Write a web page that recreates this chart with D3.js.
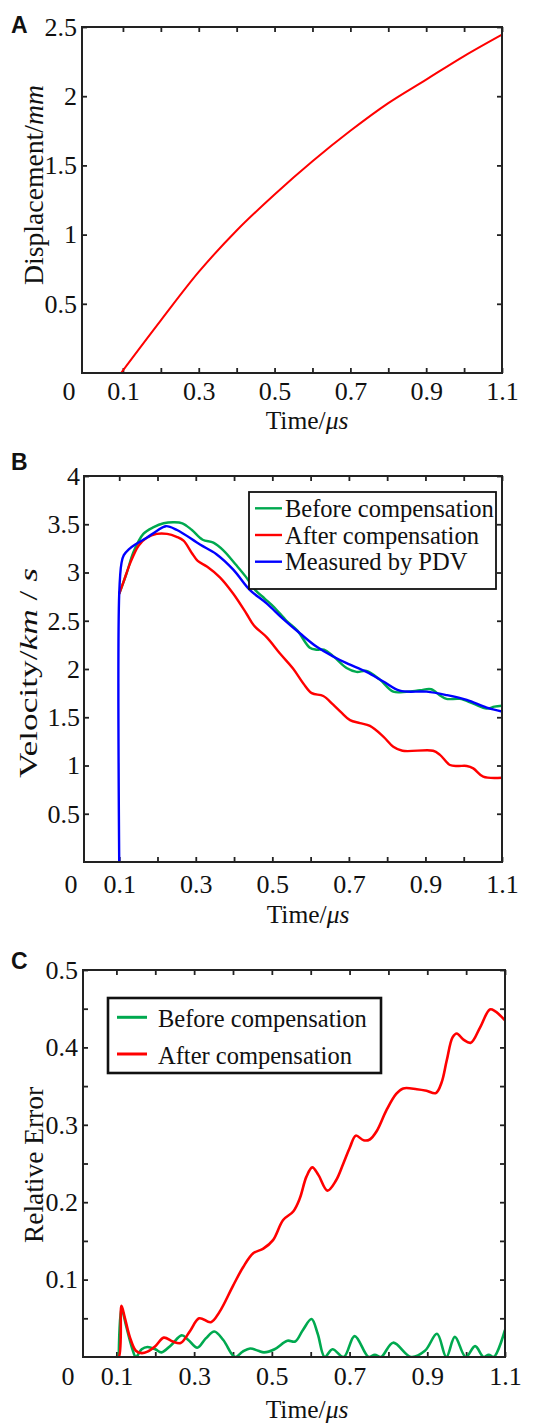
<!DOCTYPE html>
<html>
<head>
<meta charset="utf-8">
<script src="https://cdnjs.cloudflare.com/ajax/libs/d3/7.8.5/d3.min.js"></script>
<style>
body { margin: 0; background: #fff; }
svg text { font-family: "Liberation Serif", "Times New Roman", serif; fill: #111; }
</style>
</head>
<body>
<svg id="fig" width="553" height="1423"></svg>
<script>
// ---- data ----
var timeTicks = [0.1, 0.2, 0.3, 0.4, 0.5, 0.6, 0.7, 0.8, 0.9, 1.0, 1.1];
var timeLabels = [0.1, 0.3, 0.5, 0.7, 0.9, 1.1];

var dispTicks = [0.5, 1, 1.5, 2, 2.5];
var dispLabels = [0.5, 1, 1.5, 2, 2.5];
var velTicks = [0.5, 1, 1.5, 2, 2.5, 3, 3.5, 4];
var velLabels = [0.5, 1, 1.5, 2, 2.5, 3, 3.5, 4];
var errTicks = [0.05, 0.1, 0.15, 0.2, 0.25, 0.3, 0.35, 0.4, 0.45, 0.5];
var errLabels = [0.1, 0.2, 0.3, 0.4, 0.5];

var seriesNames = ['Before compensation', 'After compensation', 'Measured by PDV'];

// A: displacement (mm) vs time (us)
var displacement = [[0.095, 0], [0.2, 0.38], [0.3, 0.73], [0.4, 1.03], [0.5, 1.29], [0.6, 1.53],
    [0.7, 1.75], [0.8, 1.95], [0.9, 2.12], [1.0, 2.29], [1.1, 2.445]];

// B: velocity (km/s)
var velBefore = [[0.1, 2.78], [0.12, 3.0], [0.137, 3.21], [0.163, 3.4], [0.19, 3.47], [0.216, 3.51], [0.242, 3.52],
    [0.265, 3.51], [0.29, 3.44], [0.318, 3.34], [0.346, 3.31], [0.372, 3.23], [0.405, 3.08], [0.43, 2.96],
    [0.455, 2.82], [0.48, 2.73], [0.505, 2.64], [0.537, 2.5], [0.565, 2.4], [0.598, 2.22], [0.615, 2.2],
    [0.635, 2.2], [0.66, 2.13], [0.694, 2.01], [0.72, 1.97], [0.746, 1.98], [0.781, 1.89], [0.816, 1.765],
    [0.851, 1.765], [0.886, 1.78], [0.915, 1.79], [0.94, 1.72], [0.955, 1.69], [0.99, 1.69], [1.025, 1.64],
    [1.06, 1.59], [1.08, 1.61], [1.1, 1.62]];
var velAfter = [[0.1, 2.78], [0.111, 2.9], [0.129, 3.1], [0.151, 3.28], [0.172, 3.36], [0.198, 3.4], [0.225, 3.4],
    [0.25, 3.37], [0.268, 3.33], [0.29, 3.2], [0.305, 3.12], [0.33, 3.06], [0.363, 2.95], [0.398, 2.78],
    [0.433, 2.57], [0.452, 2.45], [0.485, 2.33], [0.52, 2.16], [0.555, 2.0], [0.581, 1.85], [0.603, 1.75],
    [0.633, 1.72], [0.659, 1.63], [0.68, 1.55], [0.703, 1.47], [0.729, 1.44], [0.755, 1.41], [0.79, 1.3],
    [0.816, 1.195], [0.84, 1.153], [0.92, 1.153], [0.938, 1.11], [0.964, 1.005], [0.985, 0.995], [1.008, 0.995],
    [1.025, 0.97], [1.051, 0.884], [1.1, 0.873]];
var velPDV = [[0.1, 0], [0.1, 2.78], [0.106, 3.1], [0.112, 3.18], [0.125, 3.24], [0.142, 3.29], [0.172, 3.36],
    [0.198, 3.43], [0.222, 3.48], [0.251, 3.44], [0.311, 3.29], [0.354, 3.19], [0.398, 3.03], [0.441, 2.82],
    [0.485, 2.68], [0.528, 2.52], [0.572, 2.37], [0.616, 2.23], [0.659, 2.13], [0.694, 2.06], [0.746, 1.97],
    [0.79, 1.87], [0.833, 1.775], [0.903, 1.765], [0.955, 1.73], [1.008, 1.68], [1.06, 1.6], [1.1, 1.56]];

// C: relative error
var errBefore = [[0.106, 0], [0.113, 0.063], [0.125, 0.04], [0.14, 0.012], [0.15, 0], [0.165, 0.01], [0.18, 0.013],
    [0.2, 0.01], [0.216, 0.006], [0.24, 0.015], [0.268, 0.028], [0.285, 0.022], [0.308, 0.012], [0.33, 0.024],
    [0.352, 0.033], [0.375, 0.022], [0.405, 0], [0.425, 0.007], [0.444, 0.011], [0.465, 0.008], [0.48, 0.006],
    [0.507, 0.01], [0.54, 0.021], [0.56, 0.02], [0.58, 0.035], [0.602, 0.049], [0.618, 0.03], [0.636, 0],
    [0.656, 0.01], [0.685, 0], [0.713, 0.027], [0.749, 0], [0.765, 0.003], [0.781, 0], [0.812, 0.0185],
    [0.858, 0], [0.894, 0.008], [0.925, 0.03], [0.949, 0], [0.971, 0.026], [0.999, 0], [1.023, 0.014],
    [1.045, 0], [1.058, 0.003], [1.071, 0], [1.1, 0.035]];
var errAfter = [[0.097, 0], [0.106, 0], [0.113, 0.066], [0.122, 0.05], [0.135, 0.025], [0.15, 0.008], [0.165, 0.005],
    [0.18, 0.007], [0.2, 0.014], [0.222, 0.025], [0.245, 0.02], [0.265, 0.018], [0.29, 0.034], [0.313, 0.05],
    [0.343, 0.045], [0.365, 0.058], [0.4, 0.092], [0.426, 0.116], [0.452, 0.134], [0.478, 0.14], [0.503, 0.151],
    [0.529, 0.177], [0.555, 0.188], [0.572, 0.205], [0.589, 0.233], [0.604, 0.245], [0.62, 0.235], [0.643, 0.215],
    [0.665, 0.228], [0.684, 0.25], [0.701, 0.271], [0.716, 0.286], [0.736, 0.28], [0.752, 0.281], [0.77, 0.292],
    [0.795, 0.319], [0.82, 0.34], [0.838, 0.347], [0.873, 0.346], [0.898, 0.344], [0.922, 0.341], [0.937, 0.355],
    [0.95, 0.383], [0.965, 0.413], [0.976, 0.418], [0.993, 0.41], [1.012, 0.406], [1.036, 0.426], [1.061, 0.449],
    [1.074, 0.447], [1.1, 0.435]];

var GREEN = '#00a94f', RED = '#ff0000', BLUE = '#0000ff';
var SERIF = '"Liberation Serif", "Times New Roman", serif';

var svg = d3.select('#fig');
var clipCount = 0;

function drawPanel(cfg) {
    var x = d3.scaleLinear().domain(cfg.xDomain).range([cfg.left, cfg.right]);
    var y = d3.scaleLinear().domain(cfg.yDomain).range([cfg.bottom, cfg.top]);
    var g = svg.append('g');
    var tickLen = 5;

    function fmt(labels) {
        return function (d) { return labels.indexOf(d) >= 0 ? String(d) : ''; };
    }
    var axes = [
        { a: d3.axisBottom(x).tickValues(timeTicks).tickFormat(fmt(timeLabels)).tickPadding(cfg.xPad), t: 'translate(0,' + cfg.bottom + ')' },
        { a: d3.axisTop(x).tickValues(timeTicks).tickFormat(''), t: 'translate(0,' + cfg.top + ')' },
        { a: d3.axisLeft(y).tickValues(cfg.yTicks).tickFormat(fmt(cfg.yLabels)).tickPadding(cfg.yPad), t: 'translate(' + cfg.left + ',0)' },
        { a: d3.axisRight(y).tickValues(cfg.yTicks).tickFormat(''), t: 'translate(' + cfg.right + ',0)' }
    ];
    axes.forEach(function (ax) {
        var sel = g.append('g').attr('transform', ax.t)
            .call(ax.a.tickSizeInner(-tickLen).tickSizeOuter(0))
            .attr('font-family', SERIF).attr('font-size', 26);
        sel.select('.domain').remove();
        sel.selectAll('line').attr('stroke', '#222').attr('stroke-width', 1.8);
        sel.selectAll('text').attr('fill', '#111');
    });

    // clip + series
    var clipId = 'clip' + (clipCount++);
    g.append('clipPath').attr('id', clipId).append('rect')
        .attr('x', cfg.left).attr('y', cfg.top - 1)
        .attr('width', cfg.right - cfg.left).attr('height', cfg.bottom - cfg.top + 1);
    var line = d3.line()
        .x(function (d) { return x(d[0]); })
        .y(function (d) { return y(d[1]); })
        .curve(d3.curveCatmullRom.alpha(0.5));
    var lines = g.append('g').attr('clip-path', 'url(#' + clipId + ')');
    cfg.series.forEach(function (s) {
        lines.append('path')
            .datum(s.data)
            .attr('d', line)
            .attr('fill', 'none')
            .attr('stroke', s.color)
            .attr('stroke-width', cfg.lineWidth)
            .attr('stroke-linejoin', 'round');
    });

    // box
    g.append('rect')
        .attr('x', cfg.left).attr('y', cfg.top)
        .attr('width', cfg.right - cfg.left).attr('height', cfg.bottom - cfg.top)
        .attr('fill', 'none').attr('stroke', '#222').attr('stroke-width', 2);

    // corner "0"
    g.append('text')
        .attr('x', cfg.zeroX).attr('y', cfg.labelBase)
        .attr('text-anchor', 'middle').attr('font-size', 26)
        .text('0');

    // x title
    var xt = g.append('text')
        .attr('x', cfg.xTitleX).attr('y', cfg.xTitleY)
        .attr('text-anchor', 'middle').attr('font-size', 25.5);
    xt.append('tspan').text('Time/');
    xt.append('tspan').attr('font-style', 'italic').text('\u03bcs');

    // y title
    var yt = g.append('text')
        .attr('transform', 'translate(' + cfg.yTitleX + ',' + cfg.yTitleY + ') rotate(-90)')
        .attr('text-anchor', 'middle').attr('font-size', cfg.yTitleSize)
        .attr('textLength', cfg.yTitleLen).attr('lengthAdjust', 'spacingAndGlyphs');
    cfg.yTitle.forEach(function (p) {
        yt.append('tspan').attr('font-style', p[1] ? 'italic' : 'normal').text(p[0]);
    });

    // panel letter
    svg.append('text')
        .attr('x', 11).attr('y', cfg.letterY)
        .attr('font-size', 23).attr('font-weight', 'bold')
        .style('font-family', '"Liberation Sans", Arial, sans-serif')
        .text(cfg.letter);

    if (cfg.legend) {
        var L = cfg.legend;
        g.append('rect')
            .attr('x', L.x).attr('y', L.y).attr('width', L.w).attr('height', L.h)
            .attr('fill', '#fff').attr('stroke', '#111').attr('stroke-width', L.stroke);
        L.items.forEach(function (it, i) {
            var ly = L.rows[i];
            g.append('line')
                .attr('x1', L.lineX1).attr('x2', L.lineX2).attr('y1', ly).attr('y2', ly)
                .attr('stroke', it.color).attr('stroke-width', L.lineWidth);
            g.append('text')
                .attr('x', L.textX).attr('y', ly + L.baseOff)
                .attr('font-size', 24.5)
                .text(it.name);
        });
    }
}

drawPanel({
    letter: 'A', letterY: 33,
    left: 82, right: 502, top: 27, bottom: 373,
    xDomain: [-0.008, 1.1], yDomain: [0, 2.5],
    yTicks: dispTicks, yLabels: dispLabels,
    xPad: 9, yPad: 5, labelBase: 400, zeroX: 69,
    xTitleX: 307, xTitleY: 429,
    yTitle: [['Displacement/', false], ['mm', true]], yTitleX: 43, yTitleY: 185, yTitleLen: 200, yTitleSize: 27,
    lineWidth: 2,
    series: [{ data: displacement, color: RED }]
});

drawPanel({
    letter: 'B', letterY: 470,
    left: 84, right: 502, top: 476, bottom: 862,
    xDomain: [0.008, 1.1], yDomain: [0, 4],
    yTicks: velTicks, yLabels: velLabels,
    xPad: 13, yPad: 4, labelBase: 893, zeroX: 71,
    xTitleX: 308, xTitleY: 923,
    yTitle: [['Velocity/', false], ['km', true], [' / ', false], ['s', true]], yTitleX: 37, yTitleY: 673, yTitleLen: 210, yTitleSize: 26,
    lineWidth: 2.4,
    series: [{ data: velBefore, color: GREEN }, { data: velAfter, color: RED }, { data: velPDV, color: BLUE }],
    legend: {
        x: 249, y: 492, w: 247, h: 97, stroke: 1.8,
        lineX1: 255, lineX2: 282, textX: 285, lineWidth: 2.4, baseOff: 8.5,
        rows: [508.3, 535, 561.7],
        items: [{ name: seriesNames[0], color: GREEN }, { name: seriesNames[1], color: RED }, { name: seriesNames[2], color: BLUE }]
    }
});

drawPanel({
    letter: 'C', letterY: 969,
    left: 83, right: 505, top: 970, bottom: 1357,
    xDomain: [0.014, 1.1], yDomain: [0, 0.5],
    yTicks: errTicks, yLabels: errLabels,
    xPad: 10, yPad: 5, labelBase: 1385, zeroX: 68,
    xTitleX: 307, xTitleY: 1418,
    yTitle: [['Relative Error', false]], yTitleX: 43, yTitleY: 1165, yTitleLen: 156, yTitleSize: 27,
    lineWidth: 2.6,
    series: [{ data: errBefore, color: GREEN }, { data: errAfter, color: RED }],
    legend: {
        x: 108, y: 998, w: 273, h: 75, stroke: 2.6,
        lineX1: 117, lineX2: 147, textX: 158, lineWidth: 3, baseOff: 9.5,
        rows: [1017.3, 1054],
        items: [{ name: seriesNames[0], color: GREEN }, { name: seriesNames[1], color: RED }]
    }
});
</script>
</body>
</html>
